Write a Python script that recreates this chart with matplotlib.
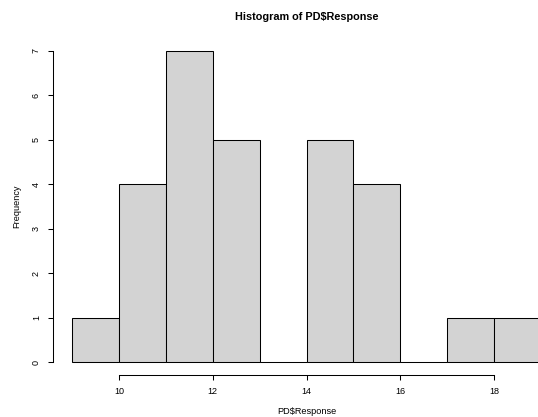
import numpy as np
import matplotlib.pyplot as plt

plt.rcParams['font.family'] = ['Liberation Sans', 'DejaVu Sans']

# histogram bins and counts
bin_edges = [9, 10, 11, 12, 13, 14, 15, 16, 17, 18, 19]
counts = [1, 4, 7, 5, 0, 5, 4, 0, 1, 1]
x_ticks = [10, 12, 14, 16, 18]
y_ticks = [0, 1, 2, 3, 4, 5, 6, 7]

fig = plt.figure(figsize=(5.38, 4.17), dpi=100)
ax = fig.add_axes([0.0994, 0.1019, 0.9407, 0.8065])

left = np.array(bin_edges[:-1])
widths = np.diff(bin_edges)
ax.bar(left, counts, width=widths, align='edge', color='#d3d3d3',
       edgecolor='black', linewidth=0.75)

# R-style extended ranges
ax.set_xlim(8.6, 19.4)
ax.set_ylim(-0.28, 7.28)

for s in ['top', 'right']:
    ax.spines[s].set_visible(False)
ax.spines['left'].set_bounds(0, 7)
ax.spines['bottom'].set_bounds(10, 18)
ax.spines['left'].set_linewidth(0.75)
ax.spines['bottom'].set_linewidth(0.75)

ax.set_xticks(x_ticks)
ax.set_yticks(y_ticks)
ax.set_yticklabels([str(v) for v in y_ticks], rotation=90, va='center')
ax.tick_params(axis='both', length=3.6, width=0.75, labelsize=6.5, pad=5.5)

# plot region centre (region runs past the right edge of the image)
cx = 306.5 / 538
fig.text(cx, 1 - 17 / 417, 'Histogram of PD$Response',
         ha='center', va='center', fontsize=7.8, fontweight='bold')
fig.text(cx, 1 - 411 / 417, 'PD$Response',
         ha='center', va='center', fontsize=6.6)
fig.text(17 / 538, 1 - 206 / 417, 'Frequency', rotation=90,
         ha='center', va='center', fontsize=6.6)

fig.savefig('out.png', dpi=100)
